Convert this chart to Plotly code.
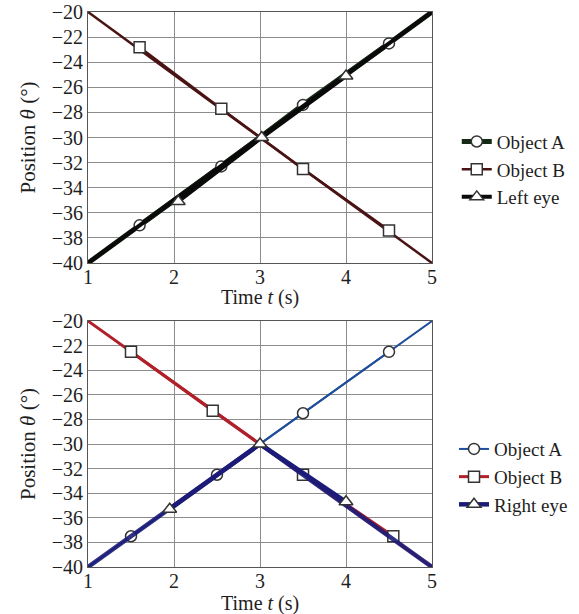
import plotly.graph_objects as go
from plotly.subplots import make_subplots

# ---- data ----
line_t = [1, 3, 5]
# top panel
top_A_line = [-40, -30, -20]
top_B_line = [-20, -30, -40]
top_eye_line = [-40, -30, -20]
top_A_mt = [1.6, 2.55, 3.5, 4.5]
top_A_my = [-37.0, -32.3, -27.4, -22.5]
top_B_mt = [1.6, 2.55, 3.5, 4.5]
top_B_my = [-22.8, -27.7, -32.5, -37.4]
top_eye_mt = [2.05, 3.02, 4.0]
top_eye_my = [-35.1, -30.0, -25.1]
# bottom panel
bot_A_line = [-40, -30, -20]
bot_B_line = [-20, -30, -40]
bot_eye_line = [-40, -30, -40]
bot_A_mt = [1.5, 2.5, 3.5, 4.5]
bot_A_my = [-37.5, -32.5, -27.5, -22.5]
bot_B_mt = [1.5, 2.45, 3.5, 4.55]
bot_B_my = [-22.5, -27.3, -32.5, -37.5]
bot_eye_mt = [1.95, 3.0, 4.0]
bot_eye_my = [-35.3, -30.0, -34.7]

x_ticks = [1, 2, 3, 4, 5]
y_ticks = [-20, -22, -24, -26, -28, -30, -32, -34, -36, -38, -40]
x_title = "Time <i>t</i> (s)"
y_title = "Position <i>θ</i> (°)"

FONT = "Liberation Serif"
FS = 20
FL = 19
FT = 20
TXT = "#1e1e1e"

fig = make_subplots(rows=2, cols=1, vertical_spacing=0.1)


def add_series(row, lt, ly, mt, my, name, color, width, symbol, legend, msize=11, opacity=1.0):
    fig.add_trace(go.Scatter(x=lt, y=ly, mode="lines", line=dict(color=color, width=width),
                             showlegend=False, legendgroup=name + legend, hoverinfo="skip",
                             opacity=opacity),
                  row=row, col=1)
    fig.add_trace(go.Scatter(x=mt, y=my, mode="lines+markers", name=name,
                             line=dict(color=color, width=width),
                             marker=dict(symbol=symbol, size=msize, color="white",
                                         line=dict(color="#333333", width=1.5)),
                             legend=legend, legendgroup=name + legend),
                  row=row, col=1)


add_series(1, line_t, top_A_line, top_A_mt, top_A_my, "Object A", "#152a15", 5, "circle", "legend")
add_series(1, line_t, top_B_line, top_B_mt, top_B_my, "Object B", "#4a1414", 2.5, "square", "legend")
add_series(1, line_t, top_eye_line, top_eye_mt, top_eye_my, "Left eye", "#0a0a0a", 4, "triangle-up", "legend", 12)

add_series(2, line_t, bot_A_line, bot_A_mt, bot_A_my, "Object A", "#1f4e9c", 2, "circle", "legend2")
add_series(2, line_t, bot_B_line, bot_B_mt, bot_B_my, "Object B", "#b0202a", 3, "square", "legend2")
add_series(2, line_t, bot_eye_line, bot_eye_mt, bot_eye_my, "Right eye", "#1c1c78", 4.5, "triangle-up", "legend2", 12, 0.9)

axis_common = dict(showgrid=True, gridcolor="#8c8c8c", gridwidth=1, showline=True,
                   linecolor="#555555", linewidth=1, mirror=True, zeroline=False,
                   automargin=False,
                   ticks="", tickfont=dict(family=FONT, size=FS, color=TXT))

for r in (1, 2):
    fig.update_xaxes(range=[1, 5], tickvals=x_ticks, ticktext=[str(v) for v in x_ticks],
                     ticklabelstandoff=-4, row=r, col=1, **axis_common)
    fig.update_yaxes(range=[-40, -20], tickvals=y_ticks,
                     title=dict(text=y_title, font=dict(family=FONT, size=21, color=TXT), standoff=10),
                     row=r, col=1, **axis_common)

for yp in (0.486, -0.066):
    fig.add_annotation(text=x_title, xref="paper", yref="paper", x=0.5, y=yp,
                       xanchor="center", yanchor="middle", showarrow=False,
                       font=dict(family=FONT, size=FT, color=TXT))

fig.update_layout(
    width=579, height=614,
    margin=dict(l=88, r=147, t=12, b=47, autoexpand=False),
    paper_bgcolor="white", plot_bgcolor="white",
    xaxis=dict(domain=[0, 1]), xaxis2=dict(domain=[0, 1]),
    yaxis=dict(domain=[0.5477, 1]), yaxis2=dict(domain=[0, 0.4432]),
    legend=dict(x=1.072, xanchor="left", y=0.716, yanchor="middle",
                font=dict(family=FONT, size=FL, color=TXT), bgcolor="rgba(0,0,0,0)",
                tracegroupgap=0, itemwidth=30),
    legend2=dict(x=1.064, xanchor="left", y=0.162, yanchor="middle",
                 font=dict(family=FONT, size=FL, color=TXT), bgcolor="rgba(0,0,0,0)",
                 tracegroupgap=0, itemwidth=30),
    showlegend=True,
)

fig.write_html("out.html", config={"displayModeBar": False},
               post_script="document.body.style.margin='0';document.body.style.overflow='hidden';")
